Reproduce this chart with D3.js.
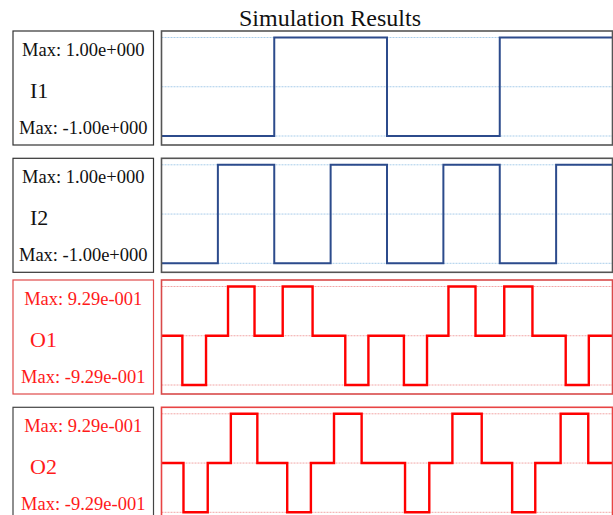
<!DOCTYPE html>
<html>
<head>
<meta charset="utf-8">
<script src="https://cdn.jsdelivr.net/npm/d3@7"></script>
<style>
  html, body { margin: 0; padding: 0; background: #fff; }
  svg { display: block; }
</style>
</head>
<body>
<svg id="chart" width="613" height="515"></svg>
<script>
// ---- data ----
const signalNames = ["I1", "I2", "O1", "O2"];
const maxLabels = ["Max: 1.00e+000", "Max: 1.00e+000", "Max: 9.29e-001", "Max: 9.29e-001"];
const minLabels = ["Max: -1.00e+000", "Max: -1.00e+000", "Max: -9.29e-001", "Max: -9.29e-001"];
const maxValues = [1, 1, 0.929, 0.929];
const minValues = [-1, -1, -0.929, -0.929];
const timeDomain = [0, 8];

const i1Times = [0, 2, 4, 6, 8];
const i1Values = [-1, 1, -1, 1, 1];

const i2Times = [0, 1, 2, 3, 4, 5, 6, 7, 8];
const i2Values = [-1, 1, -1, 1, -1, 1, -1, 1, 1];

const o1Times = [0, 0.37, 0.79, 1.18, 1.65, 2.15, 2.68, 3.26, 3.67, 4.30, 4.71, 5.09, 5.57, 6.08, 6.58, 7.17, 7.58, 8];
const o1Values = [0, -0.929, 0, 0.929, 0, 0.929, 0, -0.929, 0, -0.929, 0, 0.929, 0, 0.929, 0, -0.929, 0, 0];

const o2Times = [0, 0.39, 0.82, 1.23, 1.70, 2.23, 2.65, 3.06, 3.55, 4.32, 4.75, 5.16, 5.68, 6.22, 6.63, 7.08, 7.57, 8];
const o2Values = [0, -0.929, 0, 0.929, 0, -0.929, 0, 0.929, 0, -0.929, 0, 0.929, 0, -0.929, 0, 0.929, 0, 0];

const seriesTimes = [i1Times, i2Times, o1Times, o2Times];
const seriesValues = [i1Values, i2Values, o1Values, o2Values];

// ---- styles ----
const lineColors = ["#2c4b8c", "#2c4b8c", "#ff0000", "#ff0000"];
const textColors = ["#111", "#111", "#ff1a1a", "#ff1a1a"];
const labelBorders = ["#333", "#333", "#e04a4a", "#444"];
const plotBorders = ["#555", "#555", "#d94a4a", "#e84444"];
const gridColors = ["#a9cdea", "#a9cdea", "#f2a6a6", "#f2a6a6"];
const panelTops = [31, 158.3, 280, 407.3];

const svg = d3.select("#chart");
const font = "'Liberation Serif', 'Times New Roman', serif";

svg.append("text")
  .attr("x", 330).attr("y", 18)
  .attr("text-anchor", "middle").attr("dominant-baseline", "central")
  .style("font-family", font).style("font-size", "24px").attr("fill", "#111")
  .text("Simulation Results");

const plotLeft = 161.5, plotRight = 612.5;
const labelLeft = 13, labelRight = 153.5;
const boxH = 114;
const x = d3.scaleLinear().domain(timeDomain).range([plotLeft, plotRight]);

signalNames.forEach((name, i) => {
  const top = panelTops[i];
  const g = svg.append("g");
  const y = d3.scaleLinear().domain([minValues[i], maxValues[i]]).range([top + 105, top + 6.5]);

  // label box
  g.append("rect")
    .attr("x", labelLeft).attr("y", top)
    .attr("width", labelRight - labelLeft).attr("height", boxH)
    .attr("fill", "none").attr("stroke", labelBorders[i]).attr("stroke-width", 1.2);

  const cx = (labelLeft + labelRight) / 2;
  g.append("text").attr("x", cx).attr("y", top + 19)
    .attr("text-anchor", "middle").attr("dominant-baseline", "central")
    .style("font-family", font).style("font-size", "18.5px").attr("fill", textColors[i])
    .text(maxLabels[i]);
  g.append("text").attr("x", 30).attr("y", top + 59)
    .attr("dominant-baseline", "central")
    .style("font-family", font).style("font-size", "22px").attr("fill", textColors[i])
    .text(name);
  g.append("text").attr("x", cx).attr("y", top + 97)
    .attr("text-anchor", "middle").attr("dominant-baseline", "central")
    .style("font-family", font).style("font-size", "18.5px").attr("fill", textColors[i])
    .text(minLabels[i]);

  // gridlines
  const gridVals = [minValues[i], 0, maxValues[i]];
  g.selectAll(".grid").data(gridVals).enter().append("line")
    .attr("x1", plotLeft).attr("x2", plotRight)
    .attr("y1", d => y(d)).attr("y2", d => y(d))
    .attr("stroke", gridColors[i]).attr("stroke-width", 1)
    .attr("stroke-dasharray", "2,1");

  // signal
  const pts = seriesTimes[i].map((t, k) => [t, seriesValues[i][k]]);
  const line = d3.line().x(d => x(d[0])).y(d => y(d[1])).curve(d3.curveStepAfter);
  g.append("path").datum(pts)
    .attr("d", line)
    .attr("fill", "none").attr("stroke", lineColors[i])
    .attr("stroke-width", i < 2 ? 2 : 2.4);

  // plot box
  g.append("rect")
    .attr("x", plotLeft).attr("y", top)
    .attr("width", plotRight - plotLeft).attr("height", boxH)
    .attr("fill", "none").attr("stroke", plotBorders[i]).attr("stroke-width", 1.6);
});
</script>
</body>
</html>
